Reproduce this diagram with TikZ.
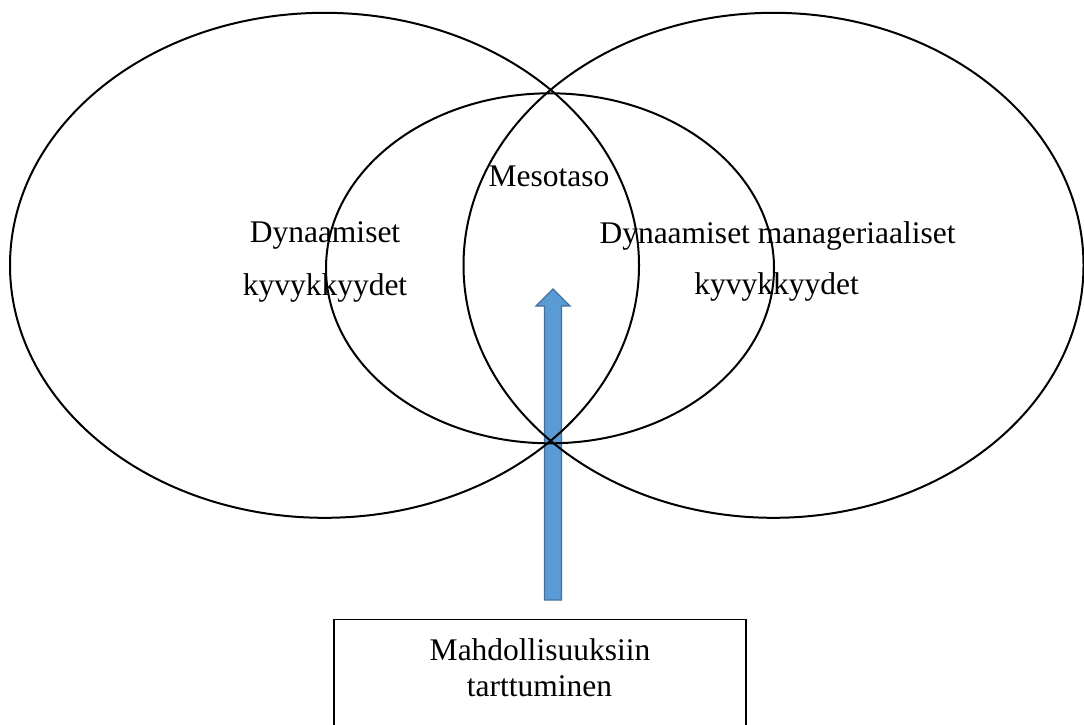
\documentclass[tikz,border=0pt]{standalone}
\usepackage{fontspec}
\setmainfont{Liberation Serif}
\usetikzlibrary{shapes.geometric,calc}
\definecolor{arrowfill}{HTML}{5B9BD5}
\definecolor{arrowline}{HTML}{41719C}
\begin{document}
\begin{tikzpicture}[x=1pt,y=-1pt,
  ring/.style={draw=black, line width=2pt, ellipse, inner sep=0pt},
  lbl/.style={anchor=base, inner sep=0pt, font=\fontsize{31.5}{36}\selectfont},
  boxstyle/.style={draw=black, line width=1.4pt, inner sep=0pt},
  blockarrow/.style={draw=arrowline, fill=arrowfill, line width=1.3pt, line join=miter}]
\useasboundingbox (0,0) rectangle (1084,724);
\clip (0,0) rectangle (1084,724);
% box
\node[boxstyle, minimum width=412pt, minimum height=150pt, anchor=north] (box) at (540,619) {};
\node[lbl] (t1) at (540,660) {Mahdollisuuksiin};
\node[lbl] (t2) at (539.5,696.7) {tarttuminen};
% block arrow
\coordinate (atail) at (553,600);
\coordinate (atip) at (553,289);
\draw[blockarrow] ($(atail)+(-8.5,0)$) -- ($(atip)+(-8.5,17)$) -- ($(atip)+(-17,17)$) -- (atip)
  -- ($(atip)+(17,17)$) -- ($(atip)+(8.5,17)$) -- ($(atail)+(8.5,0)$) -- cycle;
% labels
\node[lbl] (d1) at (325,242.7) {Dynaamiset};
\node[lbl] (d2) at (325,295) {kyvykkyydet};
\node[lbl] (m1) at (777.5,243.3) {Dynaamiset manageriaaliset};
\node[lbl] (m2) at (776.5,294) {kyvykkyydet};
\node[lbl] (meso) at (549,186) {Mesotaso};
% ellipses
\node[ring, minimum width=629pt, minimum height=505pt] (left) at (324.5,265.3) {};
\node[ring, minimum width=620pt, minimum height=505pt] (right) at (773.5,265.3) {};
\node[ring, minimum width=448pt, minimum height=350pt] (mid) at (550,268.3) {};
\end{tikzpicture}
\end{document}
